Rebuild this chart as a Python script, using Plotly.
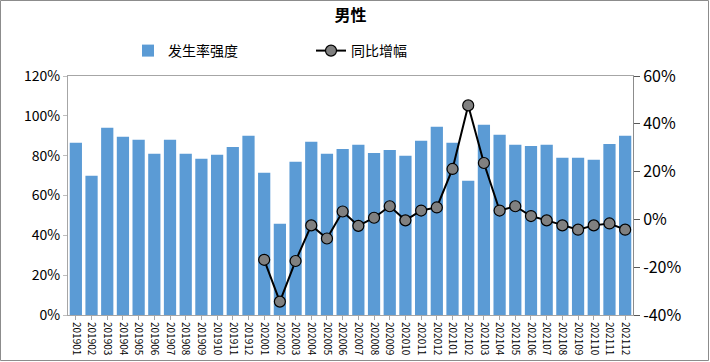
import plotly.graph_objects as go

months = ["201901","201902","201903","201904","201905","201906","201907","201908","201909","201910","201911","201912",
          "202001","202002","202003","202004","202005","202006","202007","202008","202009","202010","202011","202012",
          "202101","202102","202103","202104","202105","202106","202107","202108","202109","202110","202111","202112"]
intensity = [86.5, 69.9, 94.0, 89.5, 88.0, 80.9, 88.0, 80.9, 78.4, 80.4, 84.4, 90.0,
             71.4, 45.8, 76.9, 87.0, 80.9, 83.4, 85.5, 81.4, 82.9, 79.9, 87.5, 94.5,
             86.5, 67.4, 95.5, 90.5, 85.5, 84.9, 85.5, 78.9, 78.9, 77.9, 85.9, 90.0]
yoy = [None]*12 + [-16.9, -34.4, -17.4, -2.5, -8.0, 3.3, -2.7, 0.7, 5.5, -0.4, 3.7, 5.0,
                   21.1, 47.7, 23.6, 3.7, 5.5, 1.4, -0.4, -2.5, -4.3, -2.5, -1.7, -4.3]

left_ticks = [0, 20, 40, 60, 80, 100, 120]
left_labels = ["0%", "20%", "40%", "60%", "80%", "100%", "120%"]
right_ticks = [-40, -20, 0, 20, 40, 60]
right_labels = ["-40%", "-20%", "0%", "20%", "40%", "60%"]

FONT = "Noto Sans CJK SC"
W, H = 710, 362
L, R, T, B = 68, 77, 76, 47
pw, ph = W - L - R, H - T - B

fig = go.Figure()
fig.add_trace(go.Bar(x=months, y=intensity, name="发生率强度", marker_color="#5B9BD5",
                     marker_line_width=0, yaxis="y"))
fig.add_trace(go.Scatter(x=months, y=yoy, name="同比增幅", mode="lines+markers", yaxis="y2",
                         line=dict(color="black", width=2),
                         marker=dict(size=11, color="#808080", line=dict(color="black", width=1.2))))

fig.update_layout(
    width=W, height=H,
    margin=dict(l=L, r=R, t=T, b=B, autoexpand=False),
    paper_bgcolor="white", plot_bgcolor="white",
    font=dict(family=FONT, color="black"),
    title=dict(text="<b>男性</b>", x=0.5, xref="paper", xanchor="center", y=1 - 15/H, yanchor="middle",
               font=dict(size=16, family=FONT)),
    bargap=0.22,
    showlegend=True,
    legend=dict(orientation="h", x=(128 - L)/pw, xanchor="left", y=1 + 25/ph, yanchor="middle",
                font=dict(size=14, family=FONT), entrywidth=138, entrywidthmode="pixels",
                bgcolor="rgba(0,0,0,0)"),
    xaxis=dict(type="category", range=[-0.5, len(months) - 0.5], tickangle=90,
               tickfont=dict(size=10, family=FONT), automargin=False,
               showline=True, linecolor="#A6A6A6", mirror=True, ticks="outside", ticklen=4,
               tickcolor="#A6A6A6", showgrid=False),
    yaxis=dict(range=[0, 120], tickmode="array", tickvals=left_ticks, ticktext=left_labels,
               tickfont=dict(size=14, family=FONT), automargin=False,
               showline=True, linecolor="#A6A6A6", ticks="outside", ticklen=4, tickcolor="#BFBFBF",
               showgrid=False, zeroline=False),
    yaxis2=dict(range=[-40, 60], tickmode="array", tickvals=right_ticks, ticktext=right_labels,
                overlaying="y", side="right", automargin=False,
                tickfont=dict(size=16, family=FONT), showline=True, linecolor="#8C8C8C",
                ticks="outside", ticklen=6, tickcolor="#595959", showgrid=False, zeroline=False),
    shapes=[dict(type="rect", xref="paper", yref="paper",
                 x0=-(L - 0.5)/pw, x1=1 + (R - 1.5)/pw, y0=-(B - 1.5)/ph, y1=1 + (T - 0.5)/ph,
                 line=dict(color="#8C8C8C", width=1), fillcolor="rgba(0,0,0,0)", layer="below")],
)

fig.write_html("out.html", config={"displayModeBar": False},
               post_script="document.body.style.margin='0';document.body.style.overflow='hidden';")
